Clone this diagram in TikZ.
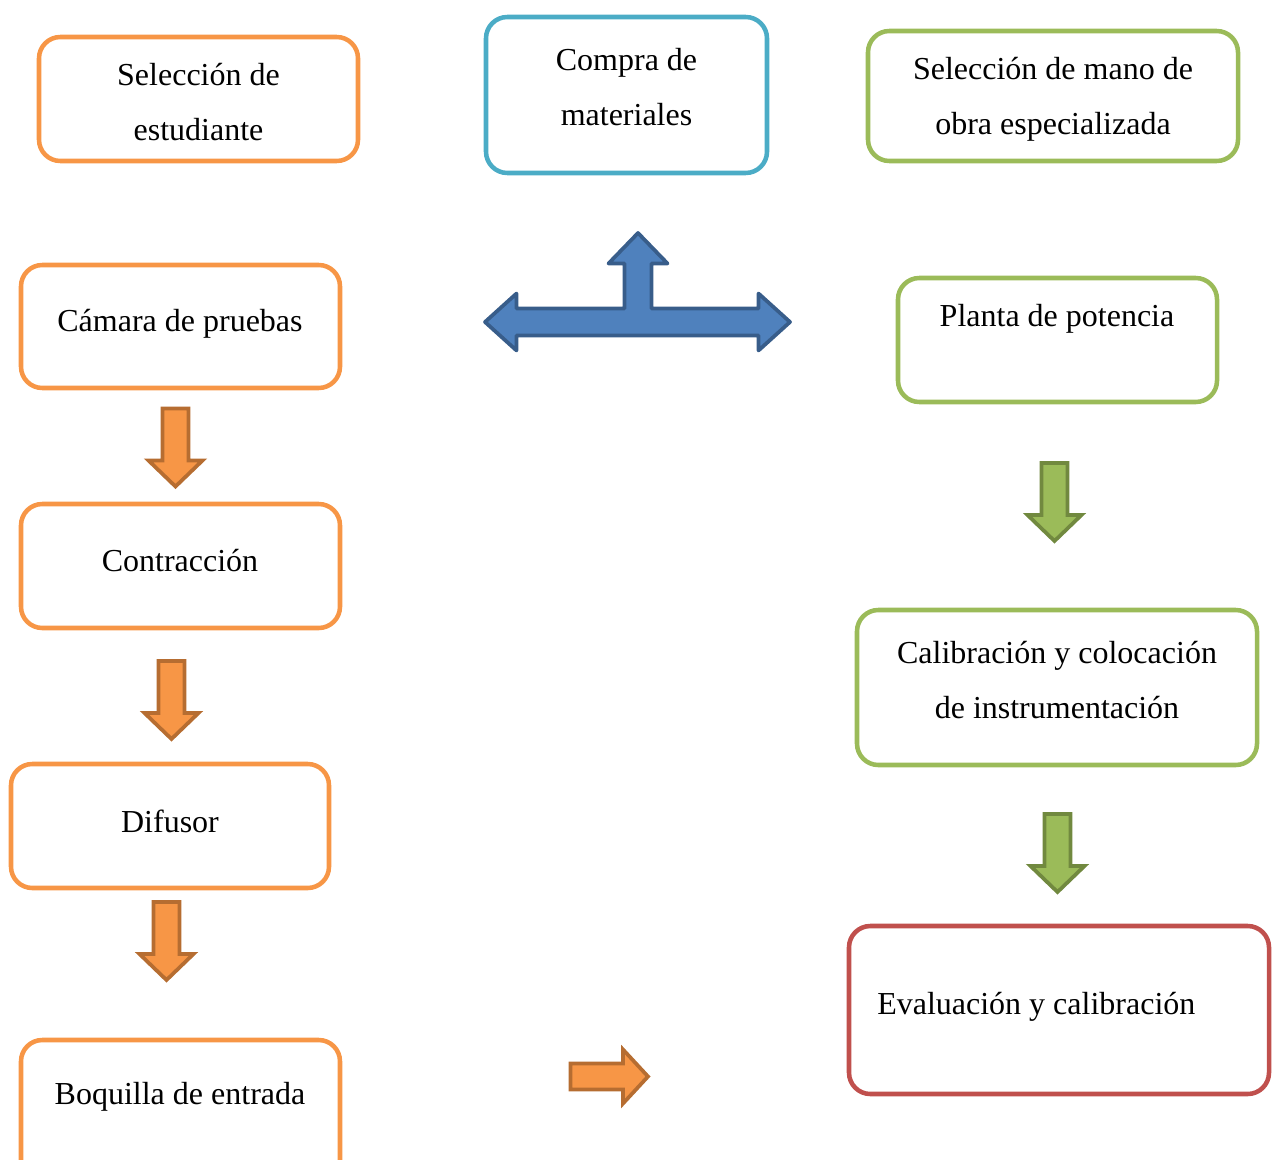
\documentclass[tikz,border=0pt]{standalone}
\usepackage{fontspec}
\setmainfont{Liberation Serif}
\definecolor{naranja}{HTML}{F79646}
\definecolor{naranjaosc}{HTML}{B66D31}
\definecolor{turquesa}{HTML}{4BACC6}
\definecolor{verde}{HTML}{9BBB59}
\definecolor{verdeosc}{HTML}{71893F}
\definecolor{rojo}{HTML}{C0504D}
\definecolor{azul}{HTML}{4F81BD}
\definecolor{azulosc}{HTML}{385D8A}
\newcommand{\flechabaja}[3]{\draw[#3, shift={(#1,#2)}] (-13,0) -- (13,0) -- (13,52) -- (27,52) -- (0,78) -- (-27,52) -- (-13,52) -- cycle ;}
\begin{document}
\begin{tikzpicture}[x=0.75pt,y=0.75pt,yscale=-1,xscale=1,
    caja/.style={line width=3.4pt, rounded corners=16pt},
    texto/.style={font=\fontsize{24}{41}\selectfont, align=center, inner sep=0pt},
    flechanar/.style={fill=naranja, draw=naranjaosc, line width=2.8pt},
    flechaver/.style={fill=verde, draw=verdeosc, line width=2.8pt}]
        \clip (0,0) rectangle (1273,1159) ;
        \draw [caja, naranja]  (39,37) rectangle (358,161) ;
        \draw [caja, turquesa]  (486,17) rectangle (767,173) ;
        \draw [caja, verde]  (868,31) rectangle (1238,161) ;
        \draw [caja, naranja]  (21,265) rectangle (340,388) ;
        \draw [caja, naranja]  (21,504) rectangle (340,628) ;
        \draw [caja, naranja]  (11,764) rectangle (329,888) ;
        \draw [caja, naranja]  (21,1040) rectangle (340,1200) ;
        \draw [caja, verde]  (898,278) rectangle (1217,402) ;
        \draw [caja, verde]  (857,610) rectangle (1257,765) ;
        \draw [caja, rojo]  (849,926) rectangle (1269,1094) ;
        \node [texto] (estudiante) at (198.5,102) {Selección de\\estudiante} ;
        \node [texto] (materiales) at (626.5,87) {Compra de\\materiales} ;
        \node [texto] (manoobra) at (1053,99) {Selección de mano de\\obra especializada} ;
        \node [texto] (camara) at (180,324) {Cámara de pruebas} ;
        \node [texto] (contraccion) at (180,561) {Contracción} ;
        \node [texto] (difusor) at (170,821) {Difusor} ;
        \node [texto] (boquilla) at (180,1097) {Boquilla de entrada} ;
        \node [texto] (planta) at (1057,319) {Planta de potencia} ;
        \node [texto] (calibracion) at (1057,680) {Calibración y colocación\\de instrumentación} ;
        \node [texto, anchor=west] (evaluacion) at (877,1007) {Evaluación y calibración} ;
        \flechabaja{175.5}{408.5}{flechanar}
        \flechabaja{171.5}{661}{flechanar}
        \flechabaja{166.5}{902}{flechanar}
        \flechabaja{1054.5}{463}{flechaver}
        \flechabaja{1057.5}{814}{flechaver}
        \draw [flechanar]  (570.5,1063.5) -- (623,1063.5) -- (623,1049.5) -- (648,1076.5) -- (623,1103.5) -- (623,1089.5) -- (570.5,1089.5) -- cycle ;
        \draw [fill=azul, draw=azulosc, line width=2.8pt, line join=round]  (485,322) -- (516.5,293.5) -- (516.5,308.5) -- (624.5,308.5) -- (624.5,263.5) -- (608.5,263.5) -- (638,233) -- (667.5,263.5) -- (651.5,263.5) -- (651.5,308.5) -- (758.5,308.5) -- (758.5,293.5) -- (790,322) -- (758.5,350.5) -- (758.5,335.5) -- (651.5,335.5) -- (516.5,335.5) -- (516.5,350.5) -- cycle ;
\end{tikzpicture}
\end{document}
